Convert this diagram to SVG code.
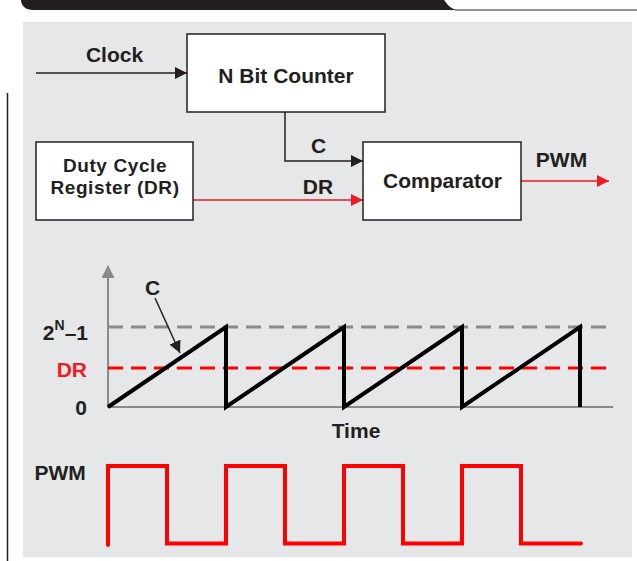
<svg xmlns="http://www.w3.org/2000/svg" width="637" height="561" viewBox="0 0 637 561">
<defs>
<style>
.t{font-family:"Liberation Sans",Arial,sans-serif;font-weight:bold;font-size:21px;fill:#231f20}
.c{text-anchor:middle}
.s{font-size:19px;letter-spacing:0.6px}
.box{fill:#fff;stroke:#231f20;stroke-width:1.5}
.ln{fill:none;stroke:#231f20;stroke-width:1.5}
.rl{fill:none;stroke:#ec1c24;stroke-width:1.5}
</style>
<marker id="ab" viewBox="0 0 12 12" refX="12" refY="6" markerWidth="12" markerHeight="12" markerUnits="userSpaceOnUse" orient="auto"><path d="M0,0L12,6L0,12Z" fill="#231f20"/></marker>
<marker id="ar" viewBox="0 0 12 12" refX="12" refY="6" markerWidth="12" markerHeight="12" markerUnits="userSpaceOnUse" orient="auto"><path d="M0,0L12,6L0,12Z" fill="#ec1c24"/></marker>
<marker id="ag" viewBox="0 0 13 13" refX="12" refY="6.5" markerWidth="13" markerHeight="13" markerUnits="userSpaceOnUse" orient="auto"><path d="M0,0L13,6.5L0,13Z" fill="#8a8a8a"/></marker>
</defs>
<rect width="637" height="561" fill="#fff"/>
<path d="M21,-2V0C21,6 26,10 33,10H457C451,9 447,5 443,-2Z" fill="#231f20"/>
<line x1="455" y1="10" x2="637" y2="10" stroke="#6d6e70" stroke-width="1.5"/>
<line x1="7.5" y1="93" x2="7.5" y2="561" stroke="#231f20" stroke-width="1.5"/>
<rect x="23" y="22" width="609" height="535" fill="#e6e7e8"/>

<g id="connectors">
<line class="ln" x1="36" y1="73" x2="187" y2="73" marker-end="url(#ab)"/>
<polyline class="ln" points="285,112 285,161 363,161" marker-end="url(#ab)"/>
<line class="rl" x1="193" y1="200" x2="363" y2="200" marker-end="url(#ar)"/>
<line class="rl" x1="521" y1="181" x2="609" y2="181" marker-end="url(#ar)"/>
<text class="t c" x="114.5" y="62">Clock</text>
<text class="t c" x="318.5" y="153">C</text>
<text class="t c" x="318" y="194">DR</text>
<text class="t c" x="561.5" y="167">PWM</text>
</g>

<g id="counter">
<rect class="box" x="187" y="34" width="198" height="78"/>
<text class="t c" x="286" y="83">N Bit Counter</text>
</g>
<g id="dutycycle">
<rect class="box" x="36" y="142" width="157" height="78"/>
<text class="t c s" x="115" y="172">Duty Cycle</text>
<text class="t c s" x="115" y="194">Register (DR)</text>
</g>
<g id="comparator">
<rect class="box" x="363" y="142" width="158" height="78"/>
<text class="t c" x="442.5" y="188">Comparator</text>
</g>

<g id="chart">
<line x1="108" y1="407" x2="108" y2="266" stroke="#8a8a8a" stroke-width="2" marker-end="url(#ag)"/>
<line x1="107" y1="407" x2="613" y2="407" stroke="#8a8a8a" stroke-width="2"/>
<line x1="108" y1="327" x2="611" y2="327" stroke="#8a8a8a" stroke-width="3" stroke-dasharray="15 8"/>
<line x1="108" y1="368" x2="611" y2="368" stroke="#ff0000" stroke-width="3" stroke-dasharray="15 8"/>
<path d="M108,407L226,327V407L344,327V407L462,327V407L580,327V407" fill="none" stroke="#000" stroke-width="4"/>
<line class="ln" x1="155" y1="298" x2="180" y2="353" marker-end="url(#ab)"/>
<text class="t c" x="152.5" y="295">C</text>
<text class="t" x="88" y="340" text-anchor="end">2<tspan font-size="14" dy="-10">N</tspan><tspan dy="10">–1</tspan></text>
<text class="t" x="87" y="377" text-anchor="end" style="fill:#ec1c24">DR</text>
<text class="t" x="87" y="415" text-anchor="end">0</text>
<text class="t c" x="356" y="438">Time</text>
</g>

<g id="pwm">
<path d="M108,545V466H167V543.5H226V466H285V543.5H344V466H403V543.5H462V466H521V543.5H581" fill="none" stroke="#ff0000" stroke-width="4" stroke-linecap="round"/>
<text class="t" x="34.5" y="480">PWM</text>
</g>
</svg>
